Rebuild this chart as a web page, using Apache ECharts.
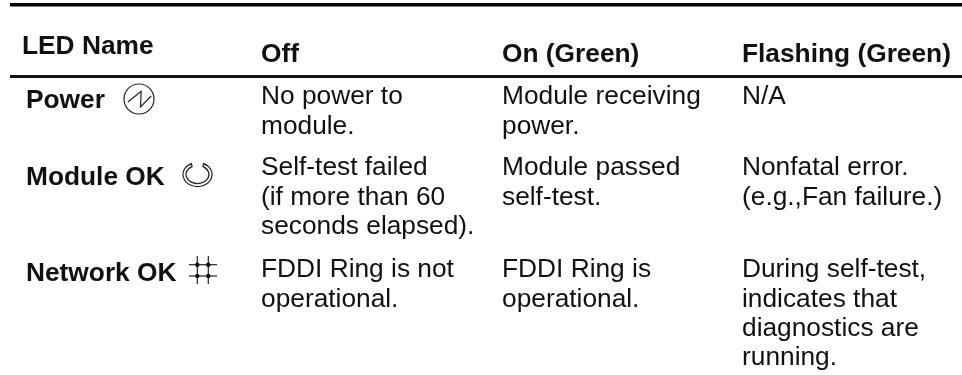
<!DOCTYPE html>
<html>
<head>
<meta charset="utf-8">
<style>html,body{margin:0;background:#fff}</style>
<script src="https://cdn.jsdelivr.net/npm/echarts@6/dist/echarts.min.js"></script>
</head>
<body>
<div id="main" style="width:962px;height:375px;"></div>
<script>
var headers = ["LED Name", "Off", "On (Green)", "Flashing (Green)"];
var ledNames = ["Power", "Module OK", "Network OK"];
var offText = [["No power to", "module."], ["Self-test failed", "(if more than 60", "seconds elapsed)."], ["FDDI Ring is not", "operational."]];
var onText = [["Module receiving", "power."], ["Module passed", "self-test."], ["FDDI Ring is", "operational."]];
var flashText = [["N/A"], ["Nonfatal error.", "(e.g.,Fan failure.)"], ["During self-test,", "indicates that", "diagnostics are", "running."]];

// layout, in picture pixels
var headerX = [22, 261, 502, 742];
var headerY = [47, 55, 55, 55];
var nameX = 26;
var nameY = [101, 177.5, 273.5];
var colX = [261, 502, 742];
var rowY = [97, 168, 270];
var lineGap = 29.3;

var cells = [];
headers.forEach(function (h, i) {
  cells.push([headerX[i], headerY[i], h, "bold"]);
});
ledNames.forEach(function (n, i) {
  cells.push([nameX, nameY[i], n, "bold"]);
});
[offText, onText, flashText].forEach(function (col, c) {
  col.forEach(function (lines, r) {
    lines.forEach(function (t, l) {
      cells.push([colX[c], rowY[r] + l * lineGap, t, "normal"]);
    });
  });
});

function renderCell(params, api) {
  var p = api.coord([api.value(0), api.value(1)]);
  var cell = cells[params.dataIndex];
  return {
    type: "text",
    x: p[0],
    y: p[1],
    style: {
      text: cell[2],
      fill: "#111",
      font: cell[3] + " 26.3px 'Liberation Sans'",
      textAlign: "left",
      textVerticalAlign: "middle"
    }
  };
}

var ink = { stroke: "#222", lineWidth: 1.2, fill: null };
var dot = { fill: "#111" };

// module ok symbol, double ring open at the top
function renderRing() {
  return {
    type: "path",
    shape: { pathData: "M191.5,163.6 A14.5,12 0 1 0 203.5,163.6 L203,166.6 A11.5,9 0 1 1 192,166.6 Z" },
    style: ink
  };
}

var myChart = echarts.init(document.getElementById("main"), null, { renderer: "canvas" });
myChart.setOption({
  animation: false,
  backgroundColor: "#fff",
  grid: { left: 0, right: 0, top: 0, bottom: 0 },
  xAxis: { type: "value", min: 0, max: 962, show: false },
  yAxis: { type: "value", min: 0, max: 375, inverse: true, show: false },
  series: [{
    type: "custom",
    renderItem: renderCell,
    data: cells.map(function (c) { return [c[0], c[1]]; }),
    silent: true
  }, {
    type: "custom",
    renderItem: renderRing,
    data: [[198, 174]],
    silent: true
  }],
  graphic: [
    { type: "rect", shape: { x: 10, y: 3, width: 952, height: 3.5 }, style: { fill: "#000" } },
    { type: "rect", shape: { x: 10, y: 75, width: 952, height: 3 }, style: { fill: "#111" } },
    // power symbol
    { type: "circle", shape: { cx: 139, cy: 99, r: 15 }, style: ink },
    { type: "polyline", shape: { points: [[127.8, 102], [141.2, 91.3], [140.5, 107], [151.2, 96]] }, style: ink },
    // network ok symbol
    { type: "line", shape: { x1: 197.3, y1: 256, x2: 197.3, y2: 284 }, style: ink },
    { type: "line", shape: { x1: 208.3, y1: 256, x2: 208.3, y2: 284 }, style: ink },
    { type: "line", shape: { x1: 189, y1: 264.7, x2: 217, y2: 264.7 }, style: ink },
    { type: "line", shape: { x1: 189, y1: 276, x2: 217, y2: 276 }, style: ink },
    { type: "circle", shape: { cx: 197.3, cy: 264.7, r: 2.2 }, style: dot },
    { type: "circle", shape: { cx: 208.3, cy: 264.7, r: 2.2 }, style: dot },
    { type: "circle", shape: { cx: 197.3, cy: 276, r: 2.2 }, style: dot },
    { type: "circle", shape: { cx: 208.3, cy: 276, r: 2.2 }, style: dot }
  ]
});
</script>
</body>
</html>
